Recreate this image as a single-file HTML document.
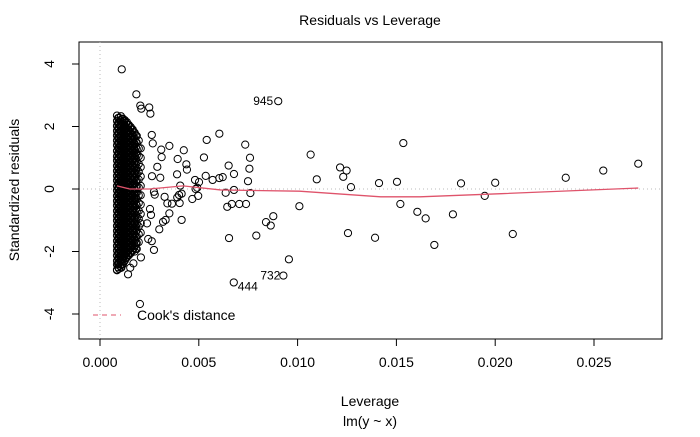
<!DOCTYPE html>
<html><head><meta charset="utf-8"><style>
body{margin:0;background:#fff}
svg text{font-family:"Liberation Sans",Arial,sans-serif;fill:#000}
</style></head><body>
<svg id="chart" width="700" height="432" viewBox="0 0 700 432" xmlns="http://www.w3.org/2000/svg">
<text x="370" y="25" font-size="14" text-anchor="middle">Residuals vs Leverage</text>
<rect x="79" y="42" width="583" height="297" fill="none" stroke="#000" stroke-width="1"/>
<g id="grid"></g>
<g id="axes"></g>
<g id="points"></g>
<g id="smooth"></g>
<g id="labels"></g>
<text x="370" y="406" font-size="14" text-anchor="middle">Leverage</text>
<text x="370" y="426" font-size="14" text-anchor="middle">lm(y ~ x)</text>
<text transform="translate(19,190) rotate(-90)" font-size="14" text-anchor="middle">Standardized residuals</text>
<g>
<line x1="93" y1="315" x2="121" y2="315" stroke="#DF536B" stroke-width="1" stroke-dasharray="5,4"/>
<text x="137" y="320" font-size="14">Cook's distance</text>
</g>
</svg>
<script>
const xTicks=[0,0.005,0.01,0.015,0.02,0.025];
const xTickLabels=["0.000","0.005","0.010","0.015","0.020","0.025"];
const yTicks=[-4,-2,0,2,4];
const yTickLabels=["-4","-2","0","2","4"];
// scattered points: leverage and standardized residual
const levs=[0.00902,0.00604,0.00540,0.00735,0.00759,0.01066,0.01535,0.00526,0.00651,0.00756,
0.01215,0.01248,0.01231,0.01097,0.02357,0.02547,0.02724,0.00678,0.00749,0.01412,
0.01503,0.01827,0.02000,0.01270,0.00678,0.00636,0.00761,0.01947,0.01009,0.01520,
0.00644,0.00667,0.00705,0.00739,0.01606,0.01648,0.01786,0.00877,0.00840,0.00864,
0.00791,0.00653,0.01255,0.01392,0.02089,0.01692,0.00956,0.00928,0.00677,0.00570,
0.00604,0.00621,0.00535,0.00481,0.00501,0.00484,0.00467,0.00497,
0.00110,0.00184,0.00204,0.00249,0.00255,0.00209,0.00351,0.00424,0.00393,0.00437,
0.00440,0.00390,0.00310,0.00312,0.00290,0.00267,0.00262,0.00263,0.00305,0.00492,
0.00273,0.00327,0.00277,0.00406,0.00400,0.00413,0.00391,0.00341,0.00364,0.00403,
0.00253,0.00258,0.00351,0.00332,0.00319,0.00413,0.00300,0.00238,0.00244,0.00262,
0.00273,0.00207,0.00169,0.00153,0.00142,0.00108,0.00202];
const resids=[2.81,1.77,1.57,1.42,1.00,1.10,1.47,1.01,0.75,0.65,
0.69,0.59,0.39,0.31,0.36,0.59,0.81,0.48,0.25,0.19,
0.23,0.18,0.20,0.06,-0.03,-0.12,-0.13,-0.22,-0.55,-0.48,
-0.57,-0.48,-0.48,-0.48,-0.73,-0.94,-0.81,-0.87,-1.06,-1.17,
-1.49,-1.57,-1.41,-1.56,-1.44,-1.79,-2.25,-2.77,-2.99,0.29,
0.35,0.38,0.42,0.29,0.22,0.00,-0.32,-0.22,
3.83,3.03,2.67,2.61,2.41,2.57,1.38,1.24,0.96,0.79,
0.62,0.47,1.26,1.02,0.71,1.46,1.73,0.41,0.36,0.04,
-0.09,-0.25,-0.18,0.11,-0.19,-0.15,-0.27,-0.46,-0.47,-0.45,
-0.64,-0.83,-0.78,-0.99,-1.05,-0.99,-1.29,-1.10,-1.60,-1.67,
-1.95,-2.19,-2.38,-2.52,-2.73,-2.52,-3.68];
// dense cluster columns
const colLevs=[0.00086,0.00096,0.00106,0.00116,0.00126,0.00136,0.00146,0.00156,0.00166,0.00176,0.00186,0.00196,0.00206];
const colResids=[
[2.35,2.18,2.02,1.86,1.71,1.55,1.40,1.22,1.05,0.91,0.74,0.58,0.42,0.27,0.10,-0.05,-0.22,-0.38,-0.53,-0.70,-0.86,-1.01,-1.18,-1.34,-1.49,-1.66,-1.82,-1.97,-2.13,-2.30,-2.42,-2.60,-2.58],
[2.28,2.10,1.94,1.78,1.63,1.47,1.31,1.14,0.98,0.83,0.66,0.50,0.35,0.18,0.02,-0.13,-0.30,-0.46,-0.61,-0.78,-0.94,-1.09,-1.26,-1.42,-1.57,-1.74,-1.90,-2.05,-2.21,-2.38,-2.55],
[2.33,2.15,1.98,1.82,1.67,1.51,1.36,1.19,1.02,0.87,0.70,0.54,0.39,0.23,0.06,-0.09,-0.26,-0.42,-0.57,-0.74,-0.90,-1.05,-1.22,-1.38,-1.53,-1.70,-1.86,-2.01,-2.17,-2.34,-2.50],
[2.25,2.08,1.92,1.76,1.60,1.44,1.28,1.12,0.95,0.80,0.63,0.47,0.31,0.15,-0.01,-0.17,-0.33,-0.49,-0.65,-0.81,-0.97,-1.13,-1.29,-1.45,-1.61,-1.77,-1.93,-2.09,-2.25,-2.41],
[2.20,2.03,1.87,1.71,1.55,1.39,1.23,1.07,0.91,0.75,0.59,0.43,0.27,0.11,-0.05,-0.21,-0.37,-0.53,-0.69,-0.85,-1.01,-1.17,-1.33,-1.49,-1.65,-1.81,-1.97,-2.13,-2.29],
[2.14,1.97,1.81,1.65,1.49,1.33,1.17,1.01,0.85,0.69,0.53,0.37,0.21,0.05,-0.11,-0.27,-0.43,-0.59,-0.75,-0.91,-1.07,-1.23,-1.39,-1.55,-1.71,-1.87,-2.03,-2.19],
[2.05,1.88,1.72,1.56,1.40,1.24,1.08,0.92,0.76,0.60,0.44,0.28,0.12,-0.04,-0.20,-0.36,-0.52,-0.68,-0.84,-1.00,-1.16,-1.32,-1.48,-1.64,-1.80,-1.96,-2.12],
[1.98,1.80,1.63,1.47,1.31,1.15,0.99,0.83,0.67,0.51,0.35,0.19,0.03,-0.13,-0.29,-0.45,-0.61,-0.77,-0.93,-1.09,-1.25,-1.41,-1.57,-1.73,-1.89,-2.05],
[1.90,1.72,1.55,1.39,1.23,1.07,0.91,0.75,0.59,0.43,0.27,0.11,-0.05,-0.21,-0.37,-0.53,-0.69,-0.85,-1.01,-1.17,-1.33,-1.49,-1.65,-1.81,-1.97],
[1.80,1.60,1.42,1.24,1.06,0.88,0.70,0.52,0.34,0.16,-0.02,-0.20,-0.38,-0.56,-0.74,-0.92,-1.10,-1.28,-1.46,-1.64,-1.82,-2.00],
[1.70,1.48,1.28,1.08,0.88,0.68,0.48,0.28,0.08,-0.12,-0.32,-0.52,-0.72,-0.92,-1.12,-1.32,-1.52,-1.72,-1.92],
[1.55,1.30,1.05,0.80,0.55,0.30,0.05,-0.20,-0.45,-0.70,-0.95,-1.20,-1.45,-1.70],
[1.30,1.00,0.70,0.40,0.10,-0.20,-0.50,-0.80,-1.10,-1.40]
];
const colLevs2=[0.00091,0.00101,0.00111,0.00121,0.00131,0.00141,0.00151,0.00161,0.00171,0.00181];
const colResids2=[
[2.27,2.10,1.94,1.78,1.63,1.47,1.31,1.14,0.98,0.82,0.66,0.50,0.34,0.18,0.02,-0.14,-0.30,-0.46,-0.62,-0.78,-0.94,-1.10,-1.26,-1.42,-1.58,-1.74,-1.90,-2.06,-2.22,-2.38,-2.50],
[2.20,2.03,1.86,1.70,1.55,1.39,1.23,1.06,0.90,0.74,0.58,0.42,0.26,0.10,-0.06,-0.22,-0.38,-0.54,-0.70,-0.86,-1.02,-1.18,-1.34,-1.50,-1.66,-1.82,-1.98,-2.14,-2.30,-2.46],
[2.24,2.06,1.90,1.74,1.59,1.43,1.27,1.10,0.94,0.78,0.62,0.46,0.30,0.14,-0.02,-0.18,-0.34,-0.50,-0.66,-0.82,-0.98,-1.14,-1.30,-1.46,-1.62,-1.78,-1.94,-2.10,-2.26,-2.42],
[2.17,2.00,1.84,1.68,1.52,1.36,1.20,1.04,0.88,0.72,0.56,0.40,0.24,0.08,-0.08,-0.24,-0.40,-0.56,-0.72,-0.88,-1.04,-1.20,-1.36,-1.52,-1.68,-1.84,-2.00,-2.16,-2.32],
[2.12,1.95,1.79,1.63,1.47,1.31,1.15,0.99,0.83,0.67,0.51,0.35,0.19,0.03,-0.13,-0.29,-0.45,-0.61,-0.77,-0.93,-1.09,-1.25,-1.41,-1.57,-1.73,-1.89,-2.05,-2.21],
[2.06,1.89,1.73,1.57,1.41,1.25,1.09,0.93,0.77,0.61,0.45,0.29,0.13,-0.03,-0.19,-0.35,-0.51,-0.67,-0.83,-0.99,-1.15,-1.31,-1.47,-1.63,-1.79,-1.95,-2.11],
[1.97,1.80,1.64,1.48,1.32,1.16,1.00,0.84,0.68,0.52,0.36,0.20,0.04,-0.12,-0.28,-0.44,-0.60,-0.76,-0.92,-1.08,-1.24,-1.40,-1.56,-1.72,-1.88,-2.04],
[1.90,1.72,1.55,1.39,1.23,1.07,0.91,0.75,0.59,0.43,0.27,0.11,-0.05,-0.21,-0.37,-0.53,-0.69,-0.85,-1.01,-1.17,-1.33,-1.49,-1.65,-1.81,-1.97],
[1.82,1.64,1.47,1.31,1.15,0.99,0.83,0.67,0.51,0.35,0.19,0.03,-0.13,-0.29,-0.45,-0.61,-0.77,-0.93,-1.09,-1.25,-1.41,-1.57,-1.73,-1.89],
[1.72,1.52,1.33,1.15,0.97,0.79,0.61,0.43,0.25,0.07,-0.11,-0.29,-0.47,-0.65,-0.83,-1.01,-1.19,-1.37,-1.55,-1.73,-1.91]
];
const smoothLev=[0.00086,0.00150,0.00250,0.00420,0.00610,0.01010,0.01420,0.01620,0.02030,0.02724];
const smoothRes=[0.10,0.00,0.00,0.10,-0.03,-0.07,-0.25,-0.25,-0.15,0.03];
const idLev=[0.00902,0.00677,0.00928];
const idRes=[2.81,-2.99,-2.77];
const idText=["945","444","732"];

const NS="http://www.w3.org/2000/svg";
const X=v=>100+v*(494/0.025);
const Y=v=>189-v*31.25;
function mk(tag,parent,attrs){const e=document.createElementNS(NS,tag);for(const k in attrs)e.setAttribute(k,attrs[k]);document.getElementById(parent).appendChild(e);return e;}

let e=mk('line','grid',{x1:X(0),x2:X(0),y1:42,y2:339,stroke:'#bbb','stroke-dasharray':'1,3'});


e=mk('line','grid',{x1:79,x2:662,y1:Y(0),y2:Y(0),stroke:'#bbb','stroke-dasharray':'1,3'});



e=mk('line','axes',{x1:X(xTicks[0]),x2:X(xTicks[xTicks.length-1]),y1:339,y2:339,stroke:'#000'});


xTicks.forEach((t,i)=>{
 let l=mk('line','axes',{x1:X(t),x2:X(t),y1:339,y2:346,stroke:'#000'});
 
 
 let tx=mk('text','axes',{x:X(t),y:367,'font-size':14,'text-anchor':'middle'});
 tx.textContent=xTickLabels[i];
 
 
});
e=mk('line','axes',{x1:79,x2:79,y1:Y(yTicks[0]),y2:Y(yTicks[yTicks.length-1]),stroke:'#000'});


yTicks.forEach((t,i)=>{
 let l=mk('line','axes',{x1:72,x2:79,y1:Y(t),y2:Y(t),stroke:'#000'});
 
 
 let tx=mk('text','axes',{transform:`translate(54,${Y(t)}) rotate(-90)`,'font-size':14,'text-anchor':'middle'});
 tx.textContent=yTickLabels[i];
 
 
});

function pt(lv,r){
 const c=mk('circle','points',{cx:X(lv),cy:Y(r),r:3.6,fill:'none',stroke:'#000','stroke-width':1});
 
 
}
colLevs.forEach((lv,i)=>colResids[i].forEach(r=>pt(lv,r)));
colLevs2.forEach((lv,i)=>colResids2[i].forEach(r=>pt(lv,r)));
levs.forEach((lv,i)=>pt(lv,resids[i]));

const sp=mk('polyline','smooth',{points:smoothLev.map((l,i)=>X(l)+','+Y(smoothRes[i])).join(' '),fill:'none',stroke:'#DF536B','stroke-width':1.3});



// 945: left of point; 444: right-below; 732: left
const t0=mk('text','labels',{x:X(idLev[0])-5,y:Y(idRes[0])+4,'font-size':12,'text-anchor':'end'});
t0.textContent=idText[0];


const t1=mk('text','labels',{x:X(idLev[1])+4,y:Y(idRes[1])+8,'font-size':12,'text-anchor':'start'});
t1.textContent=idText[1];


const t2=mk('text','labels',{x:X(idLev[2])-3,y:Y(idRes[2])+4,'font-size':12,'text-anchor':'end'});
t2.textContent=idText[2];


</script>
</body></html>
